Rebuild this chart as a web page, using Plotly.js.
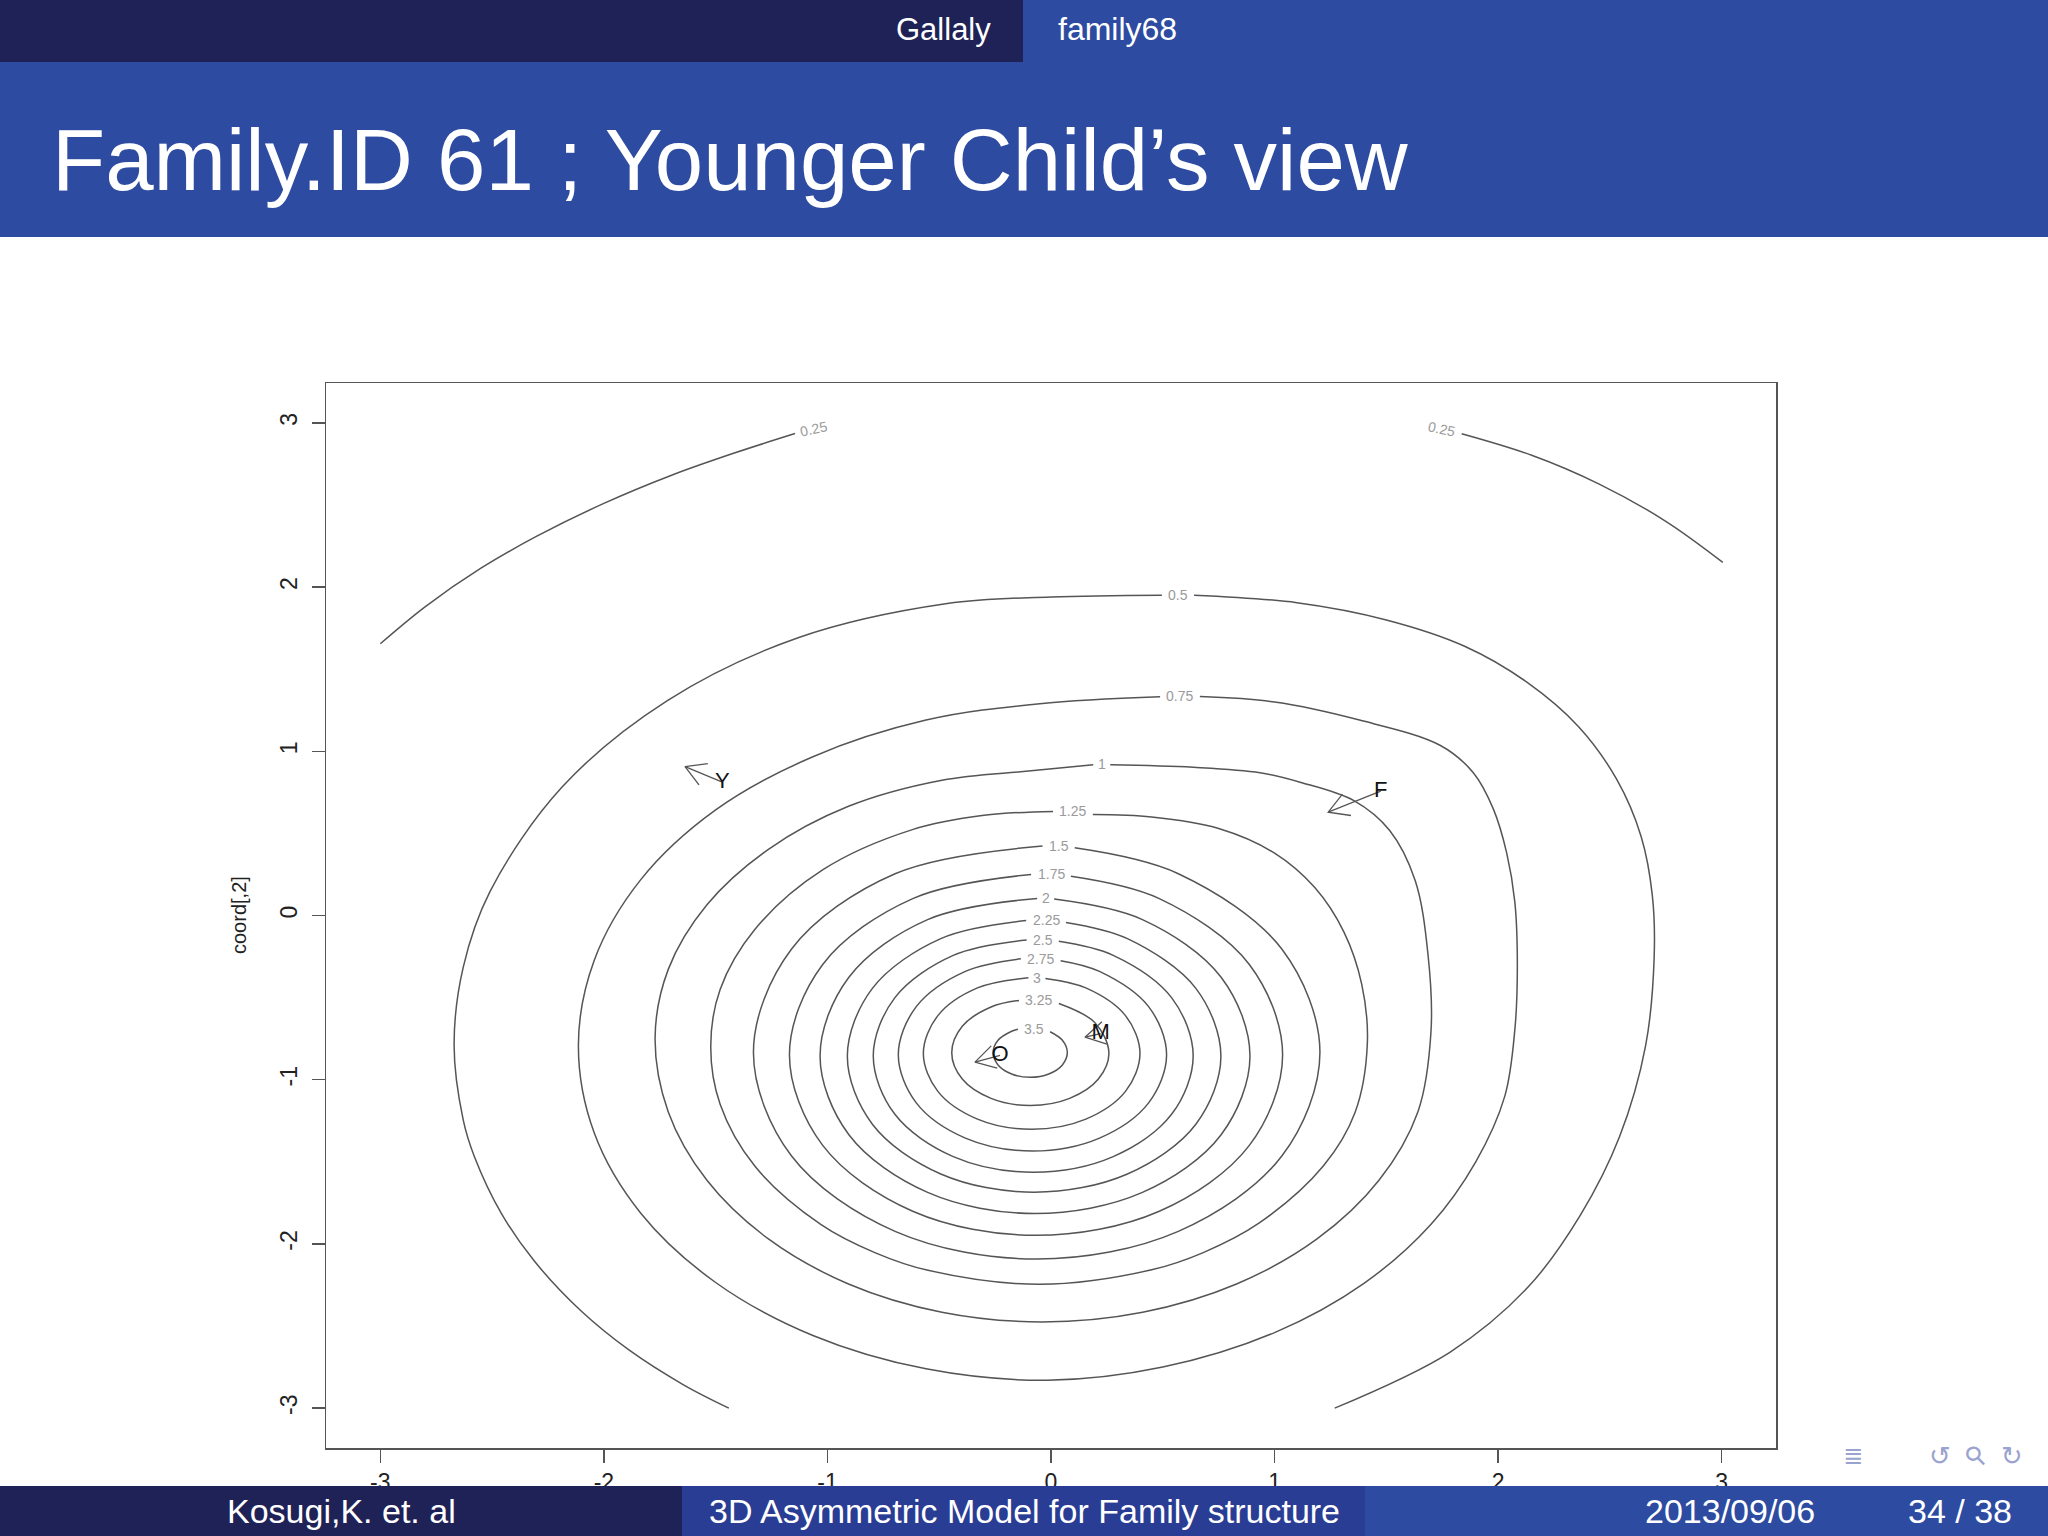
<!DOCTYPE html>
<html><head><meta charset="utf-8">
<script src="https://cdn.plot.ly/plotly-3.0.1.min.js"></script>
<style>html,body{margin:0;padding:0;background:#fff;overflow:hidden}#chart{width:2048px;height:1536px}</style>
</head><body><div id="chart"></div>
<script>
// ---------- DATA ----------
const levelNames = ["0.25","0.5","0.75","1","1.25","1.5","1.75","2","2.25","2.5","2.75","3","3.25","3.5"];

const lv025x = [-3.0,-2.8,-2.55,-2.3,-2.0,-1.7,-1.42,-1.145,null,1.837,2.15,2.45,2.75,3.005];
const lv025y = [1.655,1.88,2.115,2.31,2.51,2.68,2.815,2.935,null,2.934,2.803,2.629,2.401,2.151];

const lv050x = [-1.441,-1.644,-1.888,-2.104,-2.312,-2.458,-2.579,-2.629,-2.670,-2.629,-2.509,-2.187,-1.716,-1.128,-0.464,0.0,0.496,null,0.640,1.10,1.50,1.85,2.13,2.36,2.53,2.64,2.69,2.698,2.660,2.543,2.368,2.134,1.784,1.269];
const lv050y = [-3.0,-2.858,-2.646,-2.406,-2.103,-1.816,-1.469,-1.246,-0.79,-0.314,0.147,0.782,1.309,1.693,1.90,1.94,1.951,null,1.951,1.905,1.80,1.64,1.42,1.15,0.83,0.48,0.12,-0.255,-0.791,-1.348,-1.825,-2.263,-2.660,-3.0];

const lv075x = [0.666,1.00,1.38,1.74,1.889,1.978,2.038,2.075,2.086,2.075,2.03,1.90,1.70,1.40,1.00,0.50,-0.015,-0.559,-1.065,-1.500,-1.834,-2.043,-2.114,-2.043,-1.834,-1.500,-1.065,-0.559,-0.05,0.488];
const lv075y = [1.333,1.30,1.19,1.037,0.870,0.651,0.383,0.080,-0.322,-0.692,-1.10,-1.50,-1.88,-2.24,-2.54,-2.75,-2.83,-2.761,-2.558,-2.235,-1.815,-1.325,-0.792,-0.272,0.220,0.643,0.967,1.19,1.29,1.332];

const lv100x = [0.265,0.636,0.935,1.114,1.355,1.515,1.629,1.686,1.70,1.641,1.467,1.190,0.830,0.410,-0.04,-0.488,-0.906,-1.264,-1.539,-1.712,-1.771,-1.712,-1.539,-1.264,-0.906,-0.488,-0.10,0.189];
const lv100y = [0.918,0.903,0.870,0.812,0.70,0.518,0.213,-0.233,-0.70,-1.196,-1.6125,-1.970,-2.244,-2.416,-2.475,-2.416,-2.244,-1.970,-1.6125,-1.196,-0.75,-0.328,0.065,0.403,0.665,0.824,0.88,0.918];

const lv125x = [0.187,0.45,0.75,1.00,1.18,1.31,1.39,1.415,1.36,1.218,0.93,0.681,0.45,-0.05,-0.55,-0.788,-1.03,-1.325,-1.48,-1.522,-1.48,-1.325,-1.02,-0.62,-0.30,0.009];
const lv125y = [0.615,0.60,0.53,0.38,0.17,-0.10,-0.42,-0.78,-1.20,-1.526,-1.874,-2.053,-2.158,-2.246,-2.161,-2.053,-1.881,-1.526,-1.15,-0.80,-0.45,-0.085,0.279,0.523,0.61,0.634];

const lv150x = [0.106,0.5695,1.0333,1.203,1.0333,0.5695,-0.064,-0.6975,-1.1613,-1.331,-1.1613,-0.6975,-0.038];
const lv150y = [0.412,0.2545,-0.2057,-0.8345,-1.4633,-1.9235,-2.092,-1.9235,-1.4633,-0.8345,-0.2057,0.2545,0.423];

const lv175x = [0.089,0.4845,0.888,1.036,0.888,0.4845,-0.067,-0.6185,-1.022,-1.170,-1.022,-0.6185,-0.089];
const lv175y = [0.239,0.103,-0.2995,-0.849,-1.3985,-1.801,-1.948,-1.801,-1.3985,-0.849,-0.2995,0.103,0.250];

const lv200x = [0.014,0.409,0.761,0.890,0.761,0.409,-0.0715,-0.552,-0.904,-1.033,-0.904,-0.552,-0.062];
const lv200y = [0.100,-0.025,-0.376,-0.8555,-1.335,-1.686,-1.815,-1.686,-1.335,-0.8555,-0.376,-0.025,0.104];

const lv225x = [0.067,0.342,0.648,0.760,0.648,0.342,-0.0755,-0.493,-0.799,-0.911,-0.799,-0.493,-0.111];
const lv225y = [-0.042,-0.141,-0.444,-0.8575,-1.271,-1.574,-1.685,-1.574,-1.271,-0.8575,-0.444,-0.141,-0.031];

const lv250x = [0.035,0.2783,0.5401,0.636,0.5401,0.2783,-0.0795,-0.4373,-0.6991,-0.795,-0.6991,-0.4373,-0.109];
const lv250y = [-0.157,-0.2428,-0.5017,-0.8555,-1.2093,-1.4682,-1.563,-1.4682,-1.2093,-0.8555,-0.5017,-0.2428,-0.1488];

const lv275x = [0.043,0.217,0.4366,0.517,0.4366,0.217,-0.083,-0.383,-0.6026,-0.683,-0.6026,-0.383,-0.135];
const lv275y = [-0.275,-0.3405,-0.555,-0.848,-1.141,-1.3555,-1.434,-1.3555,-1.141,-0.848,-0.555,-0.3405,-0.264];

const lv300x = [-0.025,0.1558,0.3331,0.398,0.3331,0.1558,-0.0865,-0.3288,-0.5061,-0.571,-0.5061,-0.3288,-0.101];
const lv300y = [-0.383,-0.4408,-0.6097,-0.8405,-1.0713,-1.2402,-1.302,-1.2402,-1.0713,-0.8405,-0.6097,-0.4408,-0.379];

const lv325x = [0.035,0.1954,0.259,0.2119,0.0833,-0.0925,-0.2683,-0.3969,-0.444,-0.3969,-0.2683,-0.143];
const lv325y = [-0.536,-0.6511,-0.8355,-0.9963,-1.1139,-1.157,-1.1139,-0.9963,-0.8355,-0.6747,-0.5571,-0.5175];

const lv350x = [-0.004,0.051,0.073,0.051,-0.010,-0.093,-0.176,-0.237,-0.259,-0.237,-0.176,-0.148];
const lv350y = [-0.708,-0.760,-0.835,-0.910,-0.965,-0.985,-0.965,-0.910,-0.835,-0.760,-0.705,-0.693];

// contour label positions
const labelText = ["0.25","0.25","0.5","0.75","1","1.25","1.5","1.75","2","2.25","2.5","2.75","3","3.25","3.5"];
const labelX = [-1.063,1.747,0.568,0.577,0.227,0.098,0.034,0.0,-0.024,-0.022,-0.037,-0.046,-0.063,-0.054,-0.076];
const labelY = [2.964,2.964,1.951,1.334,0.920,0.635,0.423,0.25,0.104,-0.03,-0.148,-0.262,-0.379,-0.514,-0.694];
const labelTilt = [-12,12,0,0,0,0,0,0,0,0,0,0,0,0,0];

// family member arrows (name at tail, arrow to tip)
const memberName = ["Y","F","M","O"];
const memberX = [-1.470,1.475,0.222,-0.228];
const memberY = [0.812,0.757,-0.720,-0.852];
const tipX = [-1.637,1.240,0.152,-0.340];
const tipY = [0.907,0.629,-0.741,-0.893];

const xTicks = [-3,-2,-1,0,1,2,3];
const yTicks = [-3,-2,-1,0,1,2,3];

// ---------- LAYOUT GEOMETRY ----------
const W = 2048, H = 1536;
const PL = 326, PR = 1776, PT = 383, PB = 1448;
const RANGE = 3.243;
const kx = (PR-PL)/(2*RANGE), ky = (PB-PT)/(2*RANGE);
const fx = X => (X-PL)/(PR-PL);
const fy = Y => (PB-Y)/(PB-PT);

const lineCol = '#555555';
const traces = [];
const levelData = [[lv025x,lv025y],[lv050x,lv050y],[lv075x,lv075y],[lv100x,lv100y],[lv125x,lv125y],[lv150x,lv150y],[lv175x,lv175y],[lv200x,lv200y],[lv225x,lv225y],[lv250x,lv250y],[lv275x,lv275y],[lv300x,lv300y],[lv325x,lv325y],[lv350x,lv350y]];
levelData.forEach((d,i)=>{
  traces.push({type:'scatter',mode:'lines',x:d[0],y:d[1],name:levelNames[i],
    line:{color:lineCol,width:1.5,shape:'spline',smoothing:1},hoverinfo:'skip',showlegend:false,connectgaps:false});
});

// arrows
const ax=[], ay=[];
for (let i=0;i<memberName.length;i++){
  const sx=memberX[i], sy=memberY[i], tx=tipX[i], ty=tipY[i];
  const ang = Math.atan2((sy-ty)*ky,(sx-tx)*kx);
  const L=23, a=Math.PI/6;
  ax.push(sx,tx,null, tx+L*Math.cos(ang+a)/kx, tx, tx+L*Math.cos(ang-a)/kx, null);
  ay.push(sy,ty,null, ty+L*Math.sin(ang+a)/ky, ty, ty+L*Math.sin(ang-a)/ky, null);
}
traces.push({type:'scatter',mode:'lines',x:ax,y:ay,line:{color:'#555',width:1.3},hoverinfo:'skip',showlegend:false});
traces.push({type:'scatter',mode:'text',x:memberX,y:memberY,text:memberName,
  textfont:{family:'Liberation Sans, Arial, sans-serif',size:22,color:'#111'},textposition:'middle center',hoverinfo:'skip',showlegend:false});

const annotations = [];
labelText.forEach((t,i)=>{
  annotations.push({x:labelX[i],y:labelY[i],xref:'x',yref:'y',text:t,showarrow:false,textangle:labelTilt[i],
    font:{family:'Liberation Sans, Arial, sans-serif',size:14,color:'#9a9a9a'},xanchor:'center',yanchor:'middle'});
});

const slideFont = 'Liberation Sans, Arial, sans-serif';
function txt(t,X,Y,size,color,anchor,extra){
  return Object.assign({text:t,x:fx(X),y:fy(Y),xref:'paper',yref:'paper',showarrow:false,
    xanchor:anchor||'center',yanchor:'middle',font:{family:slideFont,size:size,color:color}},extra||{});
}
// axis title
annotations.push(txt('coord[,2]',239,915,20,'#222','center',{textangle:-90}));
// header
annotations.push(txt('Gallaly',943,29,31,'#ffffff'));
annotations.push(txt('family68',1117,29,32,'#ffffff'));
annotations.push(txt('Family.ID 61 ; Younger Child’s view',50,160,87,'#ffffff','left'));
// footer
annotations.push(txt('Kosugi,K. et. al',341,1511,34,'#ffffff'));
annotations.push(txt('3D Asymmetric Model for Family structure',1024,1511,34,'#ffffff'));
annotations.push(txt('2013/09/06',1730,1511,34,'#ffffff'));
annotations.push(txt('34 / 38',1960,1511,34,'#ffffff'));
// navigation symbols
annotations.push(Object.assign(txt('≣',1853,1456,24,'#9aa3cf'),{font:{family:'DejaVu Sans',size:24,color:'#9aa3cf'}}));
annotations.push(Object.assign(txt('↺',1940,1456,26,'#9aa3cf'),{font:{family:'DejaVu Sans',size:26,color:'#9aa3cf'}}));
annotations.push(Object.assign(txt('⚲',1975,1456,26,'#9aa3cf'),{font:{family:'DejaVu Sans',size:26,color:'#9aa3cf'},textangle:-45}));
annotations.push(Object.assign(txt('↻',2012,1456,26,'#9aa3cf'),{font:{family:'DejaVu Sans',size:26,color:'#9aa3cf'}}));

function rect(X0,Y0,X1,Y1,col){
  return {type:'rect',xref:'paper',yref:'paper',x0:fx(X0),x1:fx(X1),y0:fy(Y1),y1:fy(Y0),fillcolor:col,line:{width:0},layer:'above'};
}
const shapes = [
  rect(0,0,1023,62,'#1f2256'),
  rect(1023,0,W,62,'#2c4ba1'),
  rect(0,62,W,237,'#2c4ba1'),
  rect(0,1486,682,H,'#1f2256'),
  rect(682,1486,1365,H,'#293d94'),
  rect(1365,1486,W,H,'#2c4ba1')
];

const axisCommon = {range:[-RANGE,RANGE],showgrid:false,zeroline:false,showline:true,mirror:true,
  linecolor:'#555',linewidth:1.5,ticks:'outside',ticklen:13,tickwidth:1.5,tickcolor:'#555',
  tickfont:{family:'Liberation Sans, Arial, sans-serif',size:23,color:'#222'},fixedrange:true};

const layout = {
  width:W,height:H,paper_bgcolor:'#ffffff',plot_bgcolor:'#ffffff',
  margin:{l:PL,r:W-PR,t:PT,b:H-PB,pad:0},showlegend:false,
  xaxis:Object.assign({},axisCommon,{tickvals:xTicks,ticktext:xTicks.map(String)}),
  yaxis:Object.assign({},axisCommon,{tickvals:yTicks,ticktext:yTicks.map(String),tickangle:-90,ticklabelstandoff:5}),
  annotations:annotations,shapes:shapes
};
Plotly.newPlot('chart',traces,layout,{displayModeBar:false,staticPlot:true});
</script></body></html>
